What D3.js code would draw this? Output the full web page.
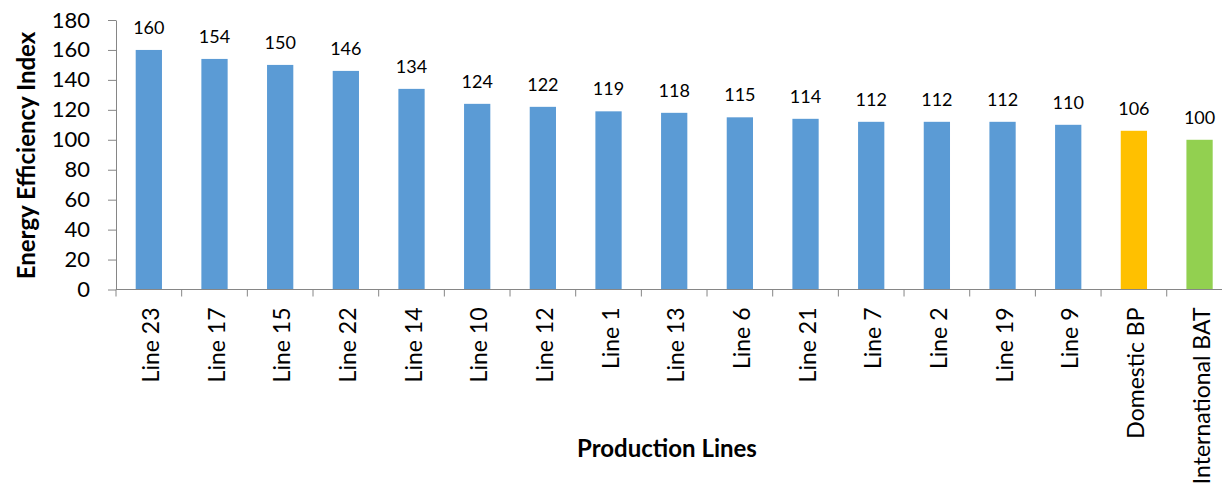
<!DOCTYPE html>
<html>
<head>
<meta charset="utf-8">
<script src="https://cdn.jsdelivr.net/npm/d3@7"></script>
<style>
  html, body { margin: 0; padding: 0; background: #fff; }
  svg { display: block; }
</style>
</head>
<body>
<svg id="chart" width="1222" height="495"></svg>
<script>
// Energy efficiency index per production line, with domestic and international benchmarks
const categories = ["Line 23", "Line 17", "Line 15", "Line 22", "Line 14", "Line 10", "Line 12", "Line 1",
  "Line 13", "Line 6", "Line 21", "Line 7", "Line 2", "Line 19", "Line 9", "Domestic BP", "International BAT"];
const values = [160, 154, 150, 146, 134, 124, 122, 119, 118, 115, 114, 112, 112, 112, 110, 106, 100];
const barColors = ["#5B9BD5", "#5B9BD5", "#5B9BD5", "#5B9BD5", "#5B9BD5", "#5B9BD5", "#5B9BD5", "#5B9BD5",
  "#5B9BD5", "#5B9BD5", "#5B9BD5", "#5B9BD5", "#5B9BD5", "#5B9BD5", "#5B9BD5", "#FFC000", "#92D050"];
const yTicks = [0, 20, 40, 60, 80, 100, 120, 140, 160, 180];

const font = "Lato, 'Liberation Sans', sans-serif";
const svg = d3.select("#chart");

const x0 = 116, step = 65.67;
const x = d3.scaleBand()
  .domain(categories)
  .range([x0, x0 + step * categories.length])
  .paddingInner(0.6)
  .paddingOuter(0.3);
const y = d3.scaleLinear().domain([0, 180]).range([289.5, 20]);

const axisColor = "#868686";

// Bars
svg.append("g").selectAll("rect")
  .data(values)
  .join("rect")
  .attr("x", (d, i) => x(categories[i]))
  .attr("y", d => y(d))
  .attr("width", x.bandwidth())
  .attr("height", d => y(0) - y(d))
  .attr("fill", (d, i) => barColors[i]);

// Value labels
svg.append("g").selectAll("text")
  .data(values)
  .join("text")
  .attr("x", (d, i) => x(categories[i]) + x.bandwidth() / 2)
  .attr("y", d => y(d) - 16)
  .attr("text-anchor", "middle")
  .attr("font-family", font)
  .attr("font-size", 18)
  .attr("fill", "#000")
  .text(d => d);

// Y axis
const yAxis = svg.append("g")
  .attr("transform", `translate(${x0},0)`)
  .call(d3.axisLeft(y).tickValues(yTicks).tickSize(8).tickPadding(18).tickSizeOuter(0));
yAxis.select(".domain").attr("stroke", axisColor);
yAxis.selectAll(".tick line").attr("stroke", axisColor);
yAxis.selectAll(".tick text")
  .attr("font-family", font)
  .attr("font-size", 22)
  .attr("fill", "#000");

// X axis with ticks on category boundaries
const catSize = 23;
const xAxisG = svg.append("g").attr("transform", `translate(0,${y(0)})`);
xAxisG.append("line")
  .attr("x1", x0).attr("x2", x0 + step * categories.length)
  .attr("stroke", axisColor);
xAxisG.selectAll("line.tk")
  .data(d3.range(categories.length + 1))
  .join("line")
  .attr("class", "tk")
  .attr("x1", i => x0 + i * step).attr("x2", i => x0 + i * step)
  .attr("y1", 0).attr("y2", 7)
  .attr("stroke", axisColor);
xAxisG.selectAll("text")
  .data(categories)
  .join("text")
  .attr("transform", d => `translate(${x(d) + x.bandwidth() / 2 + 10},18) rotate(-90)`)
  .attr("text-anchor", "end")
  .attr("font-family", font)
  .attr("font-size", catSize)
  .attr("fill", "#000")
  .text(d => d);

// Axis titles
svg.append("text")
  .attr("transform", `translate(35,155.5) rotate(-90)`)
  .attr("text-anchor", "middle")
  .attr("font-family", font)
  .attr("font-weight", "bold")
  .attr("font-size", 24)
  .attr("fill", "#000")
  .text("Energy Efficiency Index");

svg.append("text")
  .attr("x", 667)
  .attr("y", 457)
  .attr("text-anchor", "middle")
  .attr("font-family", font)
  .attr("font-weight", "bold")
  .attr("font-size", 24)
  .attr("fill", "#000")
  .text("Production Lines");
</script>
</body>
</html>
